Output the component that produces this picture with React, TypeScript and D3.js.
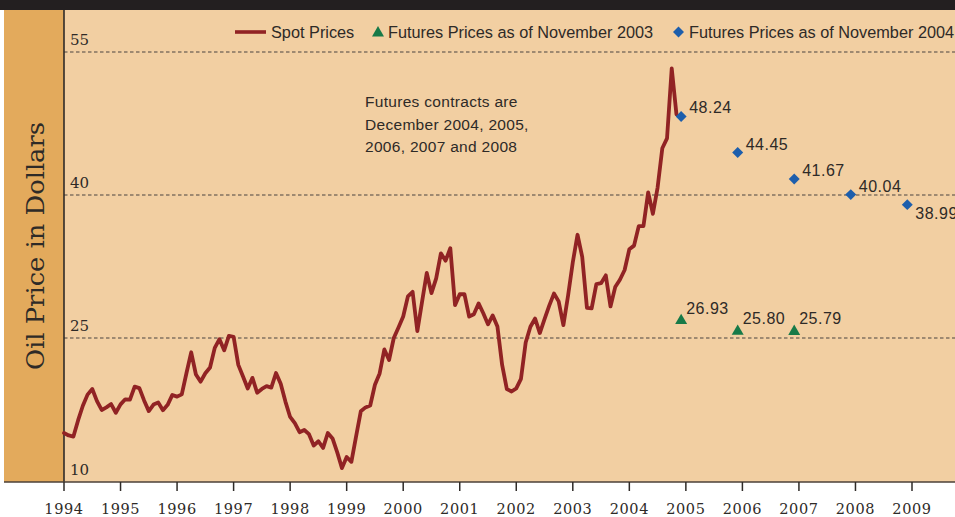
import React from "react";
import * as d3 from "d3";

// Monthly spot prices, Jan 1994 – Nov 2004 (dollars per barrel)
const spot1994 = [15.03, 14.78, 14.66, 16.38, 17.89, 19.06, 19.65, 18.38, 17.45, 17.72, 18.07, 17.16];
const spot1995 = [18.04, 18.57, 18.54, 19.9, 19.74, 18.45, 17.33, 18.02, 18.23, 17.43, 17.99, 19.03];
const spot1996 = [18.85, 19.09, 21.33, 23.5, 21.17, 20.42, 21.3, 21.9, 23.97, 24.88, 23.71, 25.23];
const spot1997 = [25.13, 22.18, 20.97, 19.7, 20.82, 19.26, 19.66, 19.95, 19.8, 21.33, 20.19, 18.33];
const spot1998 = [16.72, 16.06, 15.12, 15.35, 14.91, 13.72, 14.17, 13.47, 15.03, 14.46, 13.0, 11.35];
const spot1999 = [12.52, 12.01, 14.68, 17.31, 17.72, 17.92, 20.1, 21.28, 23.8, 22.69, 25.0, 26.1];
const spot2000 = [27.26, 29.37, 29.84, 25.72, 28.79, 31.82, 29.7, 31.26, 33.88, 33.11, 34.42, 28.44];
const spot2001 = [29.59, 29.61, 27.25, 27.49, 28.63, 27.6, 26.43, 27.37, 26.2, 22.17, 19.64, 19.39];
const spot2002 = [19.72, 20.72, 24.53, 26.18, 27.04, 25.52, 26.97, 28.39, 29.66, 28.84, 26.35, 29.46];
const spot2003 = [32.95, 35.83, 33.51, 28.17, 28.11, 30.66, 30.75, 31.57, 28.31, 30.34, 31.11, 32.13];
const spot2004 = [34.31, 34.69, 36.74, 36.75, 40.28, 38.03, 40.78, 44.9, 45.94, 53.28, 48.47];

const spotPrices = [
  ...spot1994, ...spot1995, ...spot1996, ...spot1997, ...spot1998, ...spot1999,
  ...spot2000, ...spot2001, ...spot2002, ...spot2003, ...spot2004,
];
const spotStartYear = 1994;

// Futures (December contracts)
const futures2003Years = [2004, 2005, 2006];
const futures2003Values = [26.93, 25.8, 25.79];
const futures2004Years = [2004, 2005, 2006, 2007, 2008];
const futures2004Values = [48.24, 44.45, 41.67, 40.04, 38.99];

const xTickYears = [1994, 1995, 1996, 1997, 1998, 1999, 2000, 2001, 2002, 2003, 2004, 2005, 2006, 2007, 2008, 2009];
const yTickValues = [10, 25, 40, 55];
const gridValues = [25, 40, 55];

const legendLabels = ["Spot Prices", "Futures Prices as of November 2003", "Futures Prices as of November 2004"];
const noteLines = ["Futures contracts are", "December 2004, 2005,", "2006, 2007 and 2008"];
const yTitle = "Oil Price in Dollars";

const W = 955;
const H = 517;
const plotLeft = 64;
const plotTop = 10;
const plotBottom = 482;

const COL_LINE = "#912324";
const COL_BLUE = "#1d5eac";
const COL_GREEN = "#177a48";
const COL_BG = "#f2cfa2";
const COL_PANEL = "#e3aa5c";
const COL_TEXT = "#2e2a27";
const SANS = "'Liberation Sans', Arial, sans-serif";
const SERIF = "'DejaVu Serif', serif";

export default function App() {
  const x = d3.scaleLinear().domain([1994, 2009]).range([64, 912]);
  const y = d3.scaleLinear().domain([10, 55]).range([481, 52]);

  const spotData = spotPrices.map((v, i) => ({ t: spotStartYear + i / 12, v }));
  const line = d3
    .line<{ t: number; v: number }>()
    .x((d) => x(d.t))
    .y((d) => y(d.v));

  const decPos = (yr: number) => yr + 11 / 12;
  const diamond = d3.symbol().type(d3.symbolSquare).size(60)();
  const tri = d3.symbol().type(d3.symbolTriangle).size(62)();

  const lastFutIdx = futures2004Values.length - 1;

  return (
    <svg
      width={W}
      height={H}
      style={{ position: "absolute", left: 0, top: 0, display: "block" }}
      xmlns="http://www.w3.org/2000/svg"
    >
      <rect x={0} y={0} width={W} height={H} fill="#ffffff" />
      <rect x={4} y={plotTop} width={W - 4} height={plotBottom - plotTop} fill={COL_BG} />
      <rect x={4} y={plotTop} width={plotLeft - 4} height={plotBottom - plotTop} fill={COL_PANEL} />
      <rect x={0} y={0} width={W} height={plotTop} fill="#231f20" />

      {/* grid lines */}
      {gridValues.map((g) => (
        <line
          key={g}
          x1={plotLeft}
          x2={W}
          y1={y(g)}
          y2={y(g)}
          stroke="#4a4440"
          strokeWidth={1.2}
          strokeDasharray="3.5,2.5"
        />
      ))}

      {/* y tick labels */}
      {yTickValues.map((v) => (
        <text
          key={v}
          x={70}
          y={v === 10 ? y(v) - 6 : y(v) - 7}
          fontFamily={SERIF}
          fontSize={15}
          fill={COL_TEXT}
        >
          {v}
        </text>
      ))}

      {/* axes */}
      <line x1={plotLeft} x2={plotLeft} y1={plotTop} y2={plotBottom} stroke="#2f2b28" strokeWidth={1.6} />
      <line x1={4} x2={W} y1={plotBottom} y2={plotBottom} stroke="#4b4038" strokeWidth={1.6} />
      {xTickYears.map((yr) => (
        <g key={yr}>
          <line x1={x(yr)} x2={x(yr)} y1={plotBottom} y2={plotBottom + 9} stroke="#2f2b28" strokeWidth={1.5} />
          <text
            x={x(yr)}
            y={514}
            textAnchor="middle"
            fontFamily={SERIF}
            fontSize={14.5}
            letterSpacing={0.6}
            fill={COL_TEXT}
          >
            {yr}
          </text>
        </g>
      ))}

      {/* y title */}
      <text
        transform={`translate(44,246) rotate(-90)`}
        textAnchor="middle"
        fontFamily={SERIF}
        fontSize={25}
        textLength={248}
        lengthAdjust="spacingAndGlyphs"
        fill={COL_TEXT}
      >
        {yTitle}
      </text>

      {/* spot line */}
      <path
        d={line(spotData) || ""}
        fill="none"
        stroke={COL_LINE}
        strokeWidth={3.8}
        strokeLinejoin="round"
        strokeLinecap="round"
      />

      {/* futures Nov 2003 */}
      {futures2003Years.map((yr, i) => (
        <g key={"f03" + yr}>
          <path d={tri || ""} transform={`translate(${x(decPos(yr))},${y(futures2003Values[i]) + 1})`} fill={COL_GREEN} />
          <text
            x={x(decPos(yr)) + 5}
            y={y(futures2003Values[i]) - 6}
            fontFamily={SANS}
            fontSize={16}
            letterSpacing={0.5}
            fill={COL_TEXT}
          >
            {futures2003Values[i].toFixed(2)}
          </text>
        </g>
      ))}

      {/* futures Nov 2004 */}
      {futures2004Years.map((yr, i) => (
        <g key={"f04" + yr}>
          <path
            d={diamond || ""}
            transform={`translate(${x(decPos(yr))},${y(futures2004Values[i])}) rotate(45)`}
            fill={COL_BLUE}
          />
          <text
            x={x(decPos(yr)) + 8}
            y={i === lastFutIdx ? y(futures2004Values[i]) + 14 : y(futures2004Values[i]) - 3}
            fontFamily={SANS}
            fontSize={16}
            letterSpacing={0.5}
            fill={COL_TEXT}
          >
            {futures2004Values[i].toFixed(2)}
          </text>
        </g>
      ))}

      {/* annotation */}
      {noteLines.map((t, i) => (
        <text key={i} x={365} y={107 + i * 22.5} fontFamily={SANS} fontSize={15.5} letterSpacing={0.3} fill={COL_TEXT}>
          {t}
        </text>
      ))}

      {/* legend */}
      <line x1={235} x2={266} y1={32} y2={32} stroke={COL_LINE} strokeWidth={3.6} />
      <text x={271} y={38} fontFamily={SANS} fontSize={16.3} fill={COL_TEXT}>
        {legendLabels[0]}
      </text>
      <path d={tri || ""} transform="translate(378,33)" fill={COL_GREEN} />
      <text x={388} y={38} fontFamily={SANS} fontSize={16.3} fill={COL_TEXT}>
        {legendLabels[1]}
      </text>
      <path d={diamond || ""} transform="translate(678.5,32) rotate(45)" fill={COL_BLUE} />
      <text x={689} y={38} fontFamily={SANS} fontSize={16.3} fill={COL_TEXT}>
        {legendLabels[2]}
      </text>
    </svg>
  );
}
